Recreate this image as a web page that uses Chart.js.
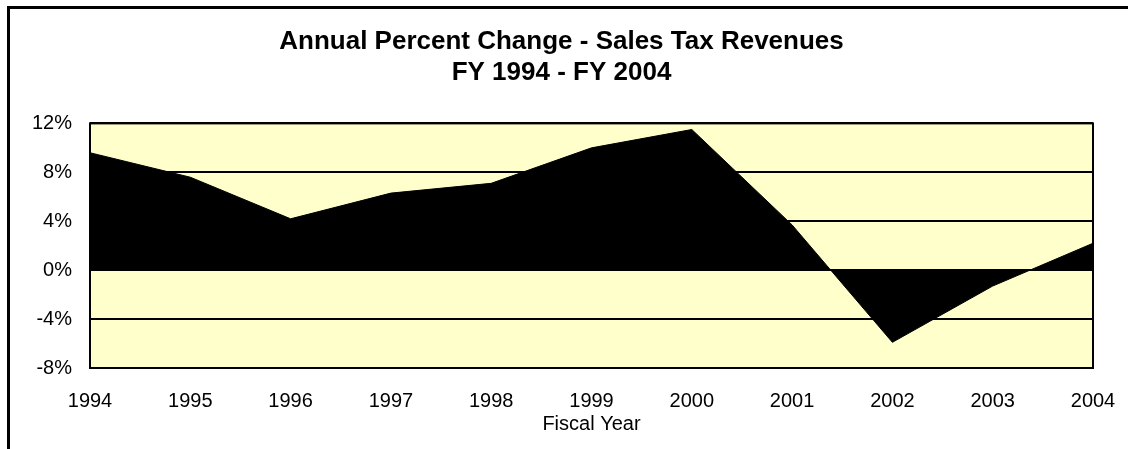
<!DOCTYPE html>
<html>
<head>
<meta charset="utf-8">
<script src="https://cdn.jsdelivr.net/npm/chart.js@4"></script>
<style>
  html, body { margin: 0; padding: 0; background: #fff; }
  #wrap { width: 1128px; height: 449px; position: relative; }
</style>
</head>
<body>
<div id="wrap"><canvas id="graph_area" width="1128" height="449"></canvas></div>
<script>
// データ
var fiscalYears = ["1994", "1995", "1996", "1997", "1998", "1999", "2000", "2001", "2002", "2003", "2004"];
var pctChange = [9.6, 7.6, 4.2, 6.3, 7.1, 10.0, 11.5, 3.7, -5.9, -1.3, 2.2];
var titleLines = ["Annual Percent Change - Sales Tax Revenues", "FY 1994 - FY 2004"];
var xAxisTitle = "Fiscal Year";

var FONT = "'Liberation Sans', Arial, sans-serif";

// 背景と枠
var plotBgPlugin = {
  id: 'plotBg',
  beforeDraw: function (chart) {
    var ctx = chart.ctx;
    var a = chart.chartArea;
    ctx.save();
    ctx.fillStyle = '#FFFFCC';
    ctx.fillRect(a.left, a.top, a.right - a.left, a.bottom - a.top);
    ctx.restore();
  },
  afterDraw: function (chart) {
    var ctx = chart.ctx;
    var a = chart.chartArea;
    ctx.save();
    ctx.strokeStyle = '#000';
    ctx.lineWidth = 2;
    ctx.strokeRect(a.left, a.top, a.right - a.left, a.bottom - a.top);
    // 外枠（左と上だけ見えている）
    ctx.lineWidth = 3;
    ctx.beginPath();
    ctx.moveTo(8.5, 449);
    ctx.lineTo(8.5, 7.5);
    ctx.lineTo(1128, 7.5);
    ctx.stroke();
    ctx.restore();
  }
};

var ctx = document.getElementById("graph_area").getContext('2d');
new Chart(ctx, {
  type: 'line',
  data: {
    labels: fiscalYears,
    datasets: [{
      data: pctChange,
      fill: 'origin',
      backgroundColor: '#000',
      borderColor: '#000',
      borderWidth: 1,
      pointRadius: 0,
      tension: 0
    }]
  },
  options: {
    responsive: false,
    animation: false,
    devicePixelRatio: 1,
    layout: { padding: { left: 30, right: 35, top: 0, bottom: 0 } },
    plugins: {
      legend: { display: false },
      tooltip: { enabled: false },
      title: {
        display: true,
        text: titleLines,
        color: '#000',
        font: { family: FONT, size: 26, weight: 'bold', lineHeight: 1.2 },
        padding: { top: 26, bottom: 35 }
      }
    },
    scales: {
      x: {
        offset: false,
        grid: { display: false, drawTicks: false },
        border: { display: false },
        ticks: {
          color: '#000',
          font: { family: FONT, size: 20 },
          padding: 21,
          maxRotation: 0,
          autoSkip: false
        },
        title: {
          display: true,
          text: xAxisTitle,
          color: '#000',
          font: { family: FONT, size: 20 },
          padding: { top: 0, bottom: 13 }
        },
        afterFit: function (scale) {
          scale.height = 81;
          scale.paddingLeft = 0;
          scale.paddingRight = 0;
        }
      },
      y: {
        min: -8,
        max: 12,
        grid: { color: '#000', lineWidth: 2, drawTicks: false },
        border: { display: false },
        ticks: {
          stepSize: 4,
          color: '#000',
          font: { family: FONT, size: 20 },
          padding: 18,
          callback: function (v) { return v + '%'; }
        },
        afterFit: function (scale) { scale.width = 60; }
      }
    }
  },
  plugins: [plotBgPlugin]
});
</script>
</body>
</html>
